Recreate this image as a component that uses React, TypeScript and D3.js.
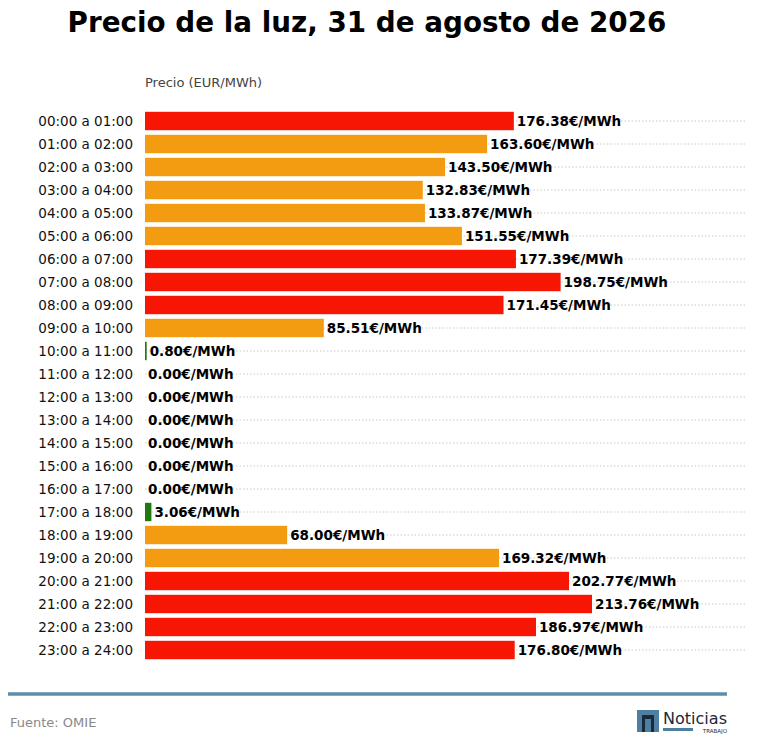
import React from 'react';
import * as d3 from 'd3';

const hours = [
  '00:00 a 01:00', '01:00 a 02:00', '02:00 a 03:00', '03:00 a 04:00', '04:00 a 05:00', '05:00 a 06:00',
  '06:00 a 07:00', '07:00 a 08:00', '08:00 a 09:00', '09:00 a 10:00', '10:00 a 11:00', '11:00 a 12:00',
  '12:00 a 13:00', '13:00 a 14:00', '14:00 a 15:00', '15:00 a 16:00', '16:00 a 17:00', '17:00 a 18:00',
  '18:00 a 19:00', '19:00 a 20:00', '20:00 a 21:00', '21:00 a 22:00', '22:00 a 23:00', '23:00 a 24:00',
];
const prices = [
  176.38, 163.6, 143.5, 132.83, 133.87, 151.55, 177.39, 198.75, 171.45, 85.51, 0.8, 0, 0, 0, 0, 0, 0, 3.06,
  68.0, 169.32, 202.77, 213.76, 186.97, 176.8,
];

const font = 'DejaVu Sans, sans-serif';

const colorFor = (v: number) => (v >= 170 ? '#f71504' : v >= 50 ? '#f39c12' : '#1e7a0c');

export default function App() {
  const x = d3.scaleLinear().domain([0, 213.76]).range([145, 592]);
  const y = d3.scaleBand().domain(hours).range([109.5, 661.5]).paddingInner(0.2).paddingOuter(0.1);
  const bw = y.bandwidth();

  return (
    <svg width={758} height={755} style={{ position: 'absolute', left: 0, top: 0 }} fontFamily={font}>
      <rect width={758} height={755} fill="#fff" />
      <text x={367} y={32} textAnchor="middle" fontSize={27.8} fontWeight="bold" fill="#000">
        Precio de la luz, 31 de agosto de 2026
      </text>
      <text x={145} y={87} fontSize={13} fill="#444">Precio (EUR/MWh)</text>
      {hours.map((h, i) => {
        const cy = (y(h) ?? 0) + bw / 2;
        const v = prices[i];
        return (
          <g key={h}>
            <line x1={145} x2={747} y1={cy} y2={cy} stroke="#bbb" strokeWidth={0.8} strokeDasharray="1.5,2" />
            <text x={133} y={cy + 5} textAnchor="end" fontSize={13.5} fill="#111">{h}</text>
            {v > 0 && <rect x={x(0)} y={y(h)} width={x(v) - x(0)} height={bw} fill={colorFor(v)} />}
            <text x={x(v) + 3} y={cy + 5} fontSize={13.5} fontWeight="bold" fill="#000">
              {v.toFixed(2)}€/MWh
            </text>
          </g>
        );
      })}
      <line x1={8} x2={727} y1={694} y2={694} stroke="#5b8fa8" strokeWidth={3.5} />
      <text x={10} y={727} fontSize={13} fill="#888">Fuente: OMIE</text>
      <rect x={637} y={710} width={22} height={22} fill="#4f7fa0" />
      <rect x={642} y={715} width={12} height={17} fill="#1a2a3a" />
      <rect x={645} y={719} width={6} height={13} fill="#4f7fa0" />
      <text x={663} y={724} fontSize={15} fill="#1a2a3a" textLength={64} lengthAdjust="spacingAndGlyphs">Noticias</text>
      <rect x={663} y={728} width={30} height={3} fill="#4f7fa0" />
      <text x={727} y={733} textAnchor="end" fontSize={5.5} fill="#1a2a3a">TRABAJO</text>
    </svg>
  );
}
